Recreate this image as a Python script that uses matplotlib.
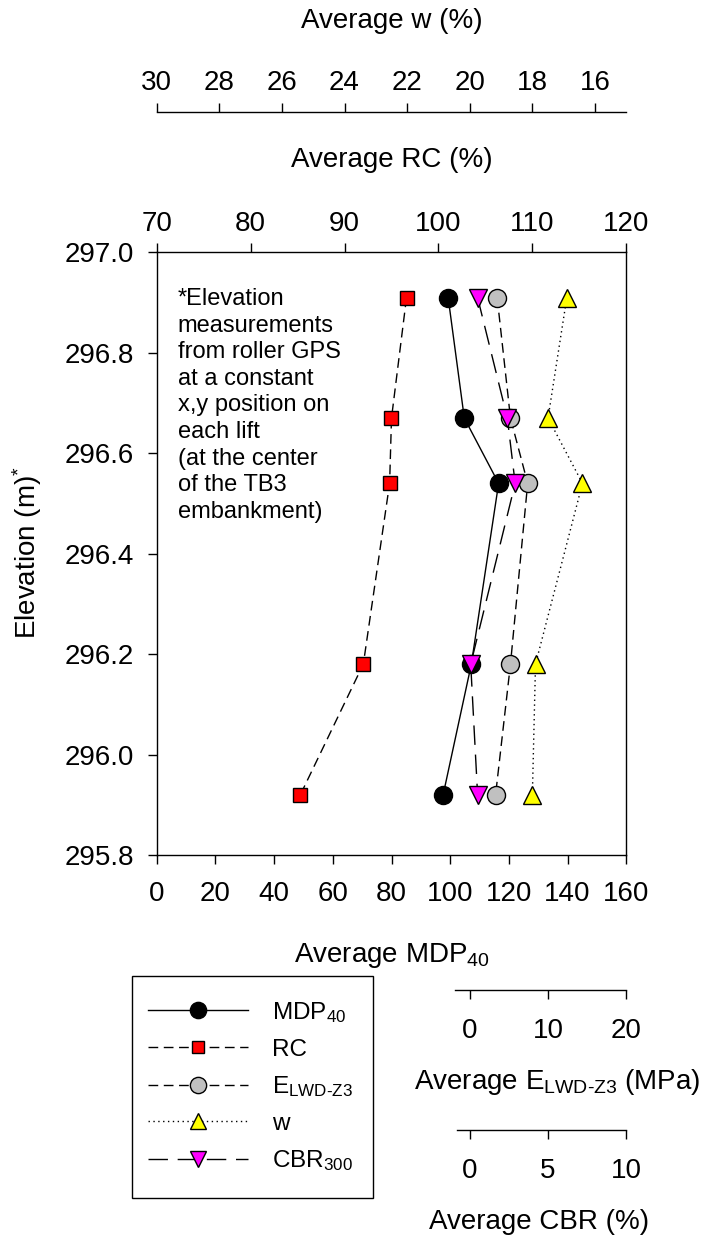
import matplotlib
matplotlib.use("Agg")
import matplotlib.pyplot as plt
from matplotlib.patches import Rectangle

plt.rcParams["font.family"] = ["Liberation Sans", "DejaVu Sans"]
plt.rcParams["mathtext.fontset"] = "custom"
plt.rcParams["mathtext.rm"] = "Liberation Sans"
plt.rcParams["mathtext.it"] = "Liberation Sans:italic"
plt.rcParams["mathtext.default"] = "regular"

# ---------------- data ----------------
elevation = [296.91, 296.67, 296.54, 296.18, 295.92]      # m
mdp40 = [99.3, 104.8, 116.5, 107.2, 97.6]                  # MDP40
rc = [96.6, 95.0, 94.8, 92.0, 85.3]                        # relative compaction, %
e_lwd = [3.5, 5.2, 7.4, 5.2, 3.3]                          # E_LWD-Z3, MPa
w = [16.9, 17.5, 16.4, 17.9, 18.0]                         # moisture content, %
cbr = [0.5, 2.4, 2.9, 0.06, 0.5]                           # CBR, %

elev_ticks = [295.8, 296.0, 296.2, 296.4, 296.6, 296.8, 297.0]
mdp_ticks = [0, 20, 40, 60, 80, 100, 120, 140, 160]
rc_ticks = [70, 80, 90, 100, 110, 120]
w_ticks = [30, 28, 26, 24, 22, 20, 18, 16]
e_ticks = [0, 10, 20]
cbr_ticks = [0, 5, 10]

# ---------------- layout helpers ----------------
W_PX, H_PX = 708, 1241
DPI = 100
fig = plt.figure(figsize=(W_PX / DPI, H_PX / DPI), dpi=DPI)


def fx(px):
    return px / W_PX


def fy(py):
    return 1 - py / H_PX


L, R, T, B = 156.7, 626.3, 252.3, 855.0
ax = fig.add_axes([fx(L), fy(B), fx(R) - fx(L), fy(T) - fy(B)])

FS = 20
TICK_LEN = 6.5
LW = 1.0

for s in ax.spines.values():
    s.set_linewidth(LW)

ax.set_ylim(295.8, 297.0)
ax.set_xlim(0, 160)
ax.set_yticks(elev_ticks)
ax.set_yticklabels([f"{v:.1f}" for v in elev_ticks])
ax.set_xticks(mdp_ticks)
ax.tick_params(axis="y", direction="out", length=TICK_LEN, width=LW,
               labelsize=FS, pad=10)
ax.tick_params(axis="x", direction="out", length=TICK_LEN, width=LW,
               labelsize=FS, pad=12)
ax.set_xlabel("Average MDP$_{40}$", fontsize=FS, va="center")
ax.xaxis.set_label_coords(0.5, -(955 - B) / (B - T))

fig.text(fx(27.5), fy(553), "Elevation (m)$^{*}$", rotation=90,
         ha="center", va="center", fontsize=FS)

SOLID = "-"
SHORT_DASH = (0, (7, 4))
LONG_DASH = (0, (14, 7))
DOTTED = (0, (1, 2.5))

ln_mdp, = ax.plot(mdp40, elevation, color="k", lw=LW, ls=SOLID,
                  marker="o", ms=13, mfc="k", mec="k", mew=1,
                  label="MDP$_{40}$", clip_on=False)


def twin(xlim):
    a = ax.twiny()
    a.set_xlim(*xlim)
    for s in a.spines.values():
        s.set_visible(False)
    return a


# relative compaction on the top frame
ax_rc = twin((70, 120))
ax_rc.set_xticks(rc_ticks)
ax_rc.tick_params(axis="x", direction="out", length=TICK_LEN, width=LW,
                  labelsize=FS, pad=4.8)
ax_rc.set_xlabel("Average RC (%)", fontsize=FS, va="center")
ax_rc.xaxis.set_label_coords(0.5, (B - 160) / (B - T))
ln_rc, = ax_rc.plot(rc, elevation, color="k", lw=LW, ls=SHORT_DASH,
                    marker="s", ms=10, mfc="#ff0000", mec="k", mew=1,
                    label="RC", clip_on=False)

# E_LWD on a detached bottom scale
ax_e = twin((-40, 20))
ax_e.xaxis.tick_bottom()
ax_e.xaxis.set_label_position("bottom")
ax_e.spines["bottom"].set_visible(True)
ax_e.spines["bottom"].set_linewidth(LW)
ax_e.spines["bottom"].set_position(("outward", (990 - B) * 72 / DPI))
ax_e.spines["bottom"].set_bounds(-1.9, 20)
ax_e.set_xticks(e_ticks)
ax_e.tick_params(axis="x", direction="out", length=TICK_LEN, width=LW,
                 labelsize=FS, pad=14)
ax_e.set_xlabel(r"Average E$_{\text{LWD-Z3}}$ (MPa)", fontsize=FS, va="center")
ax_e.xaxis.set_label_coords((557 - L) / (R - L), -(1082 - B) / (B - T))
ln_e, = ax_e.plot(e_lwd, elevation, color="k", lw=LW, ls=SHORT_DASH,
                  marker="o", ms=13, mfc="#c0c0c0", mec="k", mew=1,
                  label=r"E$_{\text{LWD-Z3}}$", clip_on=False)

# moisture content on a detached top scale
ax_w = twin((30, 15))
ax_w.spines["top"].set_visible(True)
ax_w.spines["top"].set_linewidth(LW)
ax_w.spines["top"].set_position(("outward", (T - 111.7) * 72 / DPI))
ax_w.set_xticks(w_ticks)
ax_w.tick_params(axis="x", direction="out", length=TICK_LEN, width=LW,
                 labelsize=FS, pad=4.8)
ax_w.set_xlabel("Average w (%)", fontsize=FS, va="center")
ax_w.xaxis.set_label_coords(0.5, (B - 21) / (B - T))
ln_w, = ax_w.plot(w, elevation, color="k", lw=LW, ls=DOTTED,
                  marker="^", ms=13, mfc="#ffff00", mec="k", mew=1,
                  label="w", clip_on=False)

# CBR on a second detached bottom scale
ax_cbr = twin((-20, 10))
ax_cbr.xaxis.tick_bottom()
ax_cbr.xaxis.set_label_position("bottom")
ax_cbr.spines["bottom"].set_visible(True)
ax_cbr.spines["bottom"].set_linewidth(LW)
ax_cbr.spines["bottom"].set_position(("outward", (1130 - B) * 72 / DPI))
ax_cbr.spines["bottom"].set_bounds(-0.8, 10)
ax_cbr.set_xticks(cbr_ticks)
ax_cbr.tick_params(axis="x", direction="out", length=TICK_LEN, width=LW,
                   labelsize=FS, pad=14)
ax_cbr.set_xlabel("Average CBR (%)", fontsize=FS, va="center")
ax_cbr.xaxis.set_label_coords((539 - L) / (R - L), -(1222 - B) / (B - T))
ln_cbr, = ax_cbr.plot(cbr, elevation, color="k", lw=LW, ls=LONG_DASH,
                      marker="v", ms=12.5, mfc="#ff00ff", mec="k", mew=1,
                      label="CBR$_{300}$", clip_on=False)

ax.text((177.7 - L) / (R - L), (B - 288) / (B - T),
        "*Elevation\nmeasurements\nfrom roller GPS\nat a constant\n"
        "x,y position on\neach lift\n(at the center\nof the TB3\nembankment)",
        transform=ax.transAxes, ha="left", va="top", fontsize=17,
        linespacing=1.27)

# legend entries without their own frame; the box is drawn separately
handles = [ln_mdp, ln_rc, ln_e, ln_w, ln_cbr]
leg = fig.legend(handles=handles, labels=[h.get_label() for h in handles],
                 loc="upper left", bbox_to_anchor=(fx(148.3), fy(1000)),
                 borderaxespad=0, borderpad=0, frameon=False,
                 fontsize=17.5, handlelength=4.1, handletextpad=1.0,
                 labelspacing=0.56, markerscale=0.9)

box_l, box_t, box_r, box_b = 132.3, 976.0, 373.3, 1198.3
fig.patches.append(Rectangle((fx(box_l), fy(box_b)),
                             fx(box_r) - fx(box_l), fy(box_t) - fy(box_b),
                             transform=fig.transFigure, fill=False,
                             edgecolor="k", linewidth=LW))

fig.savefig("out.png", dpi=DPI)
